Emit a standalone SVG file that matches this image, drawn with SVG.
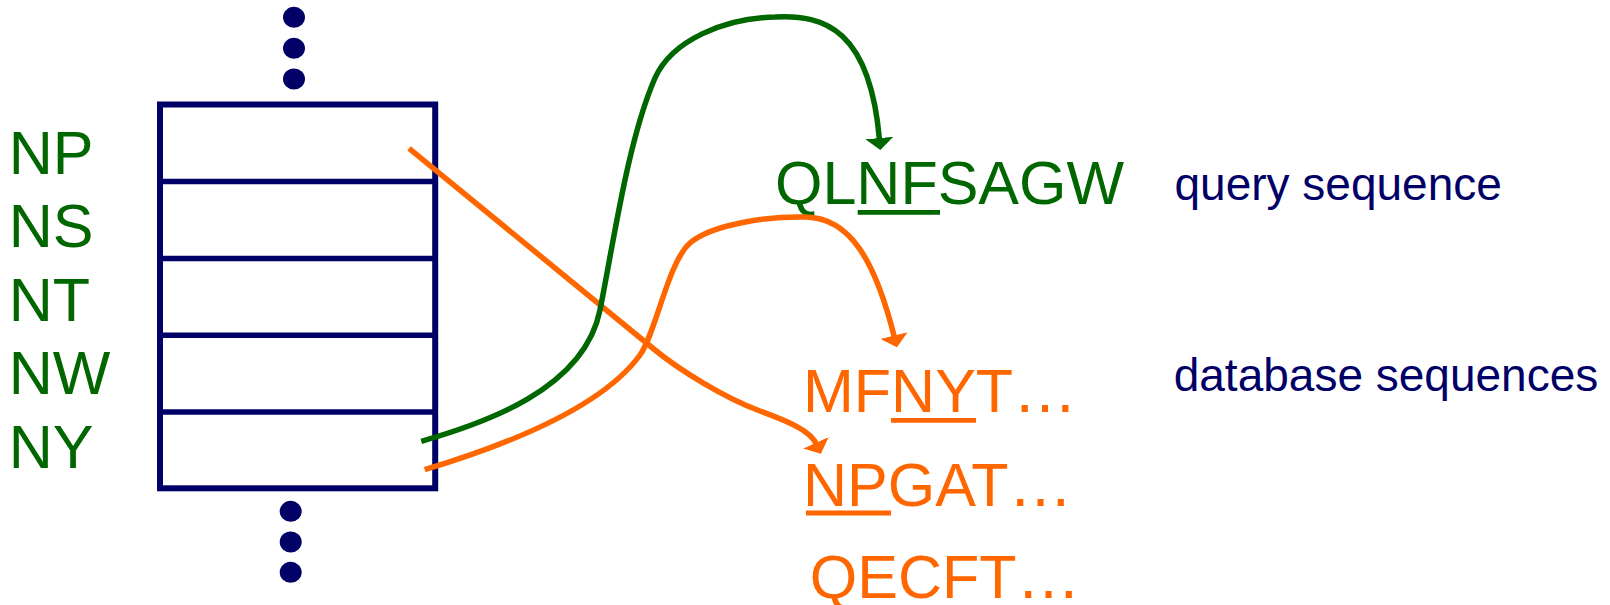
<svg xmlns="http://www.w3.org/2000/svg" width="1610" height="605" viewBox="0 0 1610 605">
  <style>
    .lbl { font-family: "Liberation Sans", Arial, sans-serif; font-size: 61px; fill: #006600; }
    .seq { font-family: "Liberation Sans", Arial, sans-serif; font-size: 61px; fill: #FF6600; }
    .qseq { font-family: "Liberation Sans", Arial, sans-serif; font-size: 61px; fill: #006600; }
    .ell { font-size: 64px; }
    .note { font-family: "Liberation Sans", Arial, sans-serif; font-size: 46px; fill: #000066; }
    .box { fill: #FFFFFF; stroke: #000066; stroke-width: 6; }
    .div { stroke: #000066; stroke-width: 5.5; }
    .dot { fill: #000066; }
    .ulG { stroke: #006600; stroke-width: 4.8; }
    .ulO { stroke: #FF6600; stroke-width: 4.8; }
    .cG { fill: none; stroke: #006600; stroke-width: 5.5; }
    .cO { fill: none; stroke: #FF6600; stroke-width: 5.5; }
  </style>
  <defs>
    <marker id="ahG" markerUnits="userSpaceOnUse" markerWidth="12" markerHeight="28" viewBox="0 0 12 28" refX="2" refY="14" orient="auto">
      <path d="M0,0 L12,14 L0,28 Z" fill="#006600"/>
    </marker>
    <marker id="ahO" markerUnits="userSpaceOnUse" markerWidth="12" markerHeight="28" viewBox="0 0 12 28" refX="2" refY="14" orient="auto">
      <path d="M0,0 L12,14 L0,28 Z" fill="#FF6600"/>
    </marker>
  </defs>
  <rect width="1610" height="605" fill="#FFFFFF"/>

  <g id="dots-top">
    <ellipse class="dot" cx="294" cy="17.3" rx="11" ry="10.5"/>
    <ellipse class="dot" cx="294" cy="48.3" rx="11" ry="10.5"/>
    <ellipse class="dot" cx="294" cy="79" rx="11" ry="10.5"/>
  </g>

  <g id="table">
    <rect class="box" x="160" y="104.5" width="275.2" height="383.8"/>
    <line class="div" x1="160" y1="181.6" x2="435.2" y2="181.6"/>
    <line class="div" x1="160" y1="258.6" x2="435.2" y2="258.6"/>
    <line class="div" x1="160" y1="335.3" x2="435.2" y2="335.3"/>
    <line class="div" x1="160" y1="412" x2="435.2" y2="412"/>
  </g>

  <g id="dots-bottom">
    <ellipse class="dot" cx="290.7" cy="511.3" rx="11" ry="10.5"/>
    <ellipse class="dot" cx="290.7" cy="542" rx="11" ry="10.5"/>
    <ellipse class="dot" cx="290.7" cy="572.3" rx="11" ry="10.5"/>
  </g>

  <g id="label-NP"><text class="lbl" x="8.8" y="173.5">NP</text></g>
  <g id="label-NS"><text class="lbl" x="8.8" y="247.2">NS</text></g>
  <g id="label-NT"><text class="lbl" x="8.8" y="320.6">NT</text></g>
  <g id="label-NW"><text class="lbl" x="8.8" y="394.3">NW</text></g>
  <g id="label-NY"><text class="lbl" x="8.8" y="467.7">NY</text></g>

  <g id="query-seq">
    <text class="qseq" x="775" y="204">QLNFSAGW</text>
    <line class="ulG" x1="857.7" y1="212.3" x2="940" y2="212.3"/>
  </g>
  <g id="query-note"><text class="note" x="1174.5" y="200">query sequence</text></g>

  <g id="db-seq-1">
    <text class="seq" x="803" y="412">MFNYT<tspan class="ell">…</tspan></text>
    <line class="ulO" x1="891" y1="420.3" x2="976" y2="420.3"/>
  </g>
  <g id="db-seq-2">
    <text class="seq" x="803" y="506">NPGAT<tspan class="ell">…</tspan></text>
    <line class="ulO" x1="806" y1="513" x2="891" y2="513"/>
  </g>
  <g id="db-seq-3">
    <text class="seq" x="809.8" y="597.5">QECFT<tspan class="ell">…</tspan></text>
  </g>
  <g id="db-note"><text class="note" x="1173.7" y="391.3">database sequences</text></g>

  <g id="connectors">
    <path class="cO" d="M409,148.3 L655,350 C680,370.5 725,398 760,411 C790,422 810.7,431 816.8,444.6" marker-end="url(#ahO)"/>
    <path class="cG" d="M421.3,441.3 C482,424 584,390 600,310 C614,240 628,140 655,78 C672,40 725,18 775,17 C825,14.3 870,30 879.5,140" marker-end="url(#ahG)"/>
    <path class="cO" d="M424.7,469.7 C500,447 600,410 640,355 C656,333 668,262 690,243 C712,224 770,216 806,217 C850,218 875,260 894.5,337.5" marker-end="url(#ahO)"/>
  </g>
</svg>
